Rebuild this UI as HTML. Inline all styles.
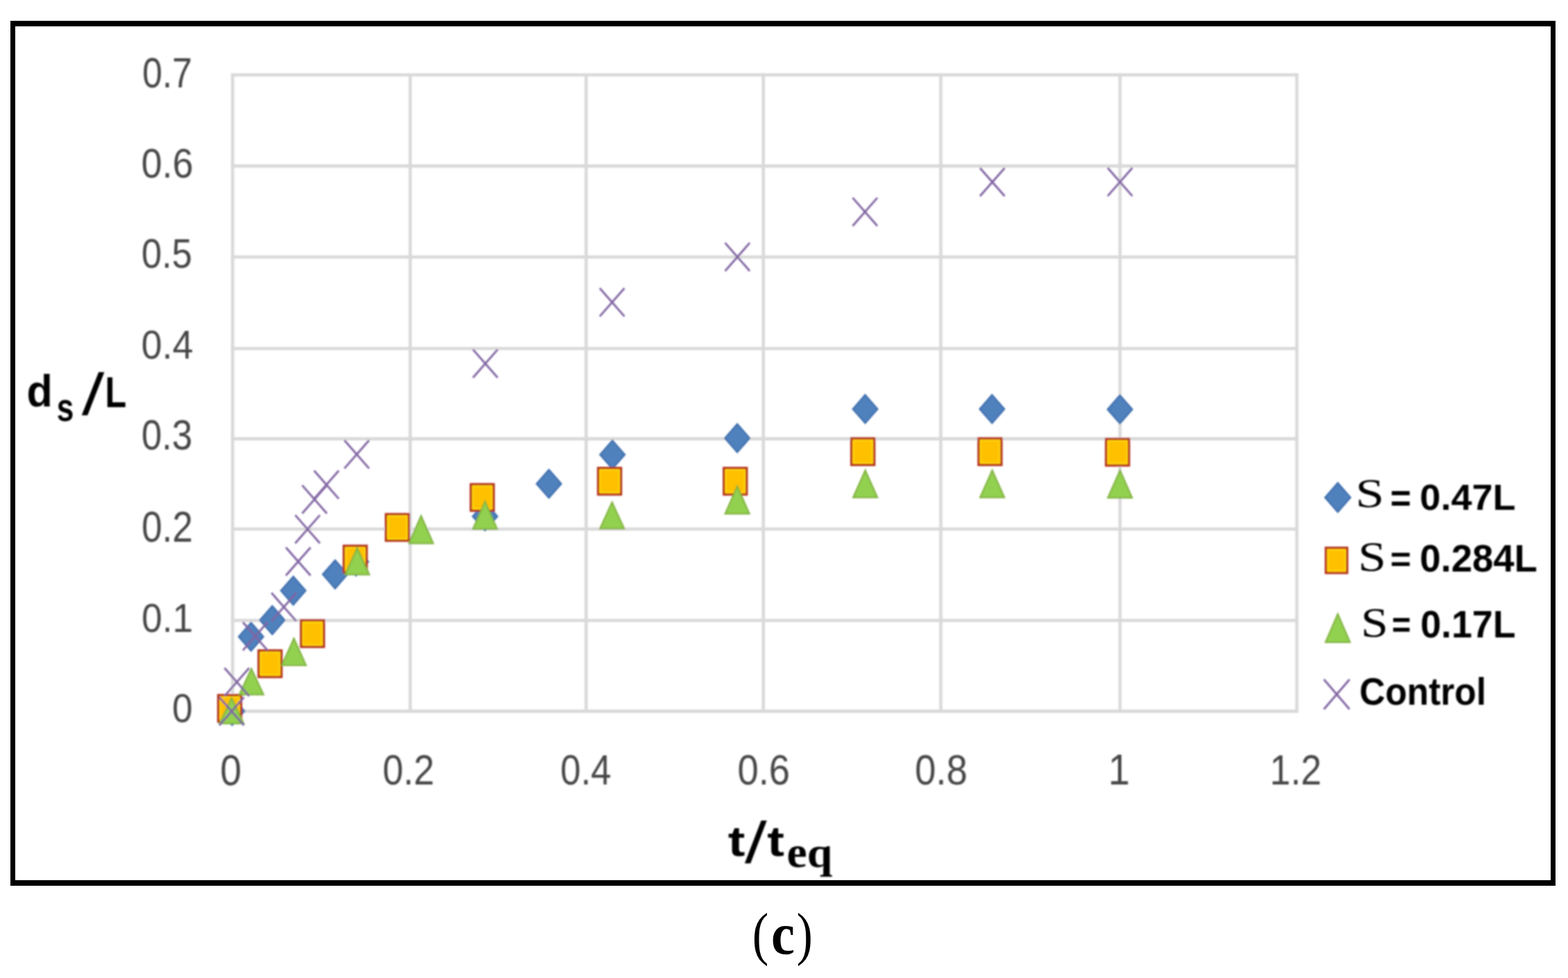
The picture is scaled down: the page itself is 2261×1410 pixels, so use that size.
<!DOCTYPE html>
<html><head><meta charset="utf-8"><title>Scour depth chart (c)</title>
<style>
html,body{margin:0;padding:0;background:#fff;}
body{width:2261px;height:1410px;overflow:hidden;}
svg{display:block;}
.grid line{stroke:#d9d9d9;stroke-width:4.6;}
.dm{fill:#4f81bd;stroke:#3a6aab;stroke-width:2;stroke-linejoin:miter;}
.sq{fill:#ffc000;stroke:#b3331f;stroke-width:3.2;}
.sqi{fill:none;stroke:#ffdc10;stroke-width:1.6;}
.tr{fill:#92d050;stroke:#7fb03e;stroke-width:2;stroke-linejoin:miter;}
.xm{fill:none;stroke:#8064a2;stroke-width:2.9;}
</style></head>
<body>
<svg width="2261" height="1410" viewBox="0 0 2261 1410">
<defs><filter id="soft" x="0" y="0" width="2261" height="1410" filterUnits="userSpaceOnUse"><feGaussianBlur stdDeviation="0.8"/></filter></defs>
<rect x="0" y="0" width="2261" height="1410" fill="#fff"/>
<rect x="15" y="30" width="2228" height="8" fill="#000"/>
<rect x="15" y="1269" width="2228" height="8" fill="#000"/>
<rect x="15" y="30" width="7" height="1247" fill="#000"/>
<rect x="2236" y="30" width="7" height="1247" fill="#000"/>
<g filter="url(#soft)">
<g class="grid"><line x1="335.4" y1="105.8" x2="335.4" y2="1027.6"/><line x1="591.5" y1="105.8" x2="591.5" y2="1027.6"/><line x1="845.2" y1="105.8" x2="845.2" y2="1027.6"/><line x1="1100.7" y1="105.8" x2="1100.7" y2="1027.6"/><line x1="1356.6" y1="105.8" x2="1356.6" y2="1027.6"/><line x1="1615" y1="105.8" x2="1615" y2="1027.6"/><line x1="1870" y1="105.8" x2="1870" y2="1027.6"/><line x1="333.2" y1="108" x2="1872.2" y2="108"/><line x1="333.2" y1="239.4" x2="1872.2" y2="239.4"/><line x1="333.2" y1="370.5" x2="1872.2" y2="370.5"/><line x1="333.2" y1="502.5" x2="1872.2" y2="502.5"/><line x1="333.2" y1="632.6" x2="1872.2" y2="632.6"/><line x1="333.2" y1="762.7" x2="1872.2" y2="762.7"/><line x1="333.2" y1="894.5" x2="1872.2" y2="894.5"/><line x1="333.2" y1="1025.4" x2="1872.2" y2="1025.4"/></g>
<g fill="#464646"><text transform="translate(205.23 125.58) scale(0.836 1)" font-family="Liberation Sans" font-weight="normal" font-size="61.83">0.7</text><text transform="translate(203.85 256.3) scale(0.8978 1)" font-family="Liberation Sans" font-weight="normal" font-size="60">0.6</text><text transform="translate(203.89 386.41) scale(0.8904 1)" font-family="Liberation Sans" font-weight="normal" font-size="59.15">0.5</text><text transform="translate(203.85 517.02) scale(0.9247 1)" font-family="Liberation Sans" font-weight="normal" font-size="58.17">0.4</text><text transform="translate(203.89 648.4) scale(0.8792 1)" font-family="Liberation Sans" font-weight="normal" font-size="60.14">0.3</text><text transform="translate(204.27 781.48) scale(0.8538 1)" font-family="Liberation Sans" font-weight="normal" font-size="62.25">0.2</text><text transform="translate(204.37 910.93) scale(0.9273 1)" font-family="Liberation Sans" font-weight="normal" font-size="57.32">0.1</text><text transform="translate(248.28 1040.63) scale(0.9255 1)" font-family="Liberation Sans" font-weight="normal" font-size="57.32">0</text><text transform="translate(317.59 1131.68) scale(0.886 1)" font-family="Liberation Sans" font-weight="normal" font-size="62.25">0</text><text transform="translate(551.76 1131.29) scale(0.8751 1)" font-family="Liberation Sans" font-weight="normal" font-size="61.27">0.2</text><text transform="translate(808.09 1131.29) scale(0.8618 1)" font-family="Liberation Sans" font-weight="normal" font-size="61.27">0.4</text><text transform="translate(1063.42 1131.29) scale(0.888 1)" font-family="Liberation Sans" font-weight="normal" font-size="61.27">0.6</text><text transform="translate(1319.32 1131.29) scale(0.8893 1)" font-family="Liberation Sans" font-weight="normal" font-size="61.27">0.8</text><text transform="translate(1598 1131.3) scale(0.9014 1)" font-family="Liberation Sans" font-weight="normal" font-size="62.17">1</text><text transform="translate(1831.07 1131.3) scale(0.8758 1)" font-family="Liberation Sans" font-weight="normal" font-size="61.29">1.2</text></g>
<g><path class="dm" d="M334.7 1004.6L352.7 1025.2L334.7 1045.8L316.7 1025.2Z"/><path class="dm" d="M362 897.4L380 918L362 938.6L344 918Z"/><path class="dm" d="M392.6 873.5L410.6 894.1L392.6 914.7L374.6 894.1Z"/><path class="dm" d="M422.9 831L440.9 851.6L422.9 872.2L404.9 851.6Z"/><path class="dm" d="M483.2 807.5L501.2 828.1L483.2 848.7L465.2 828.1Z"/><path class="dm" d="M513.3 789.1L531.3 809.7L513.3 830.3L495.3 809.7Z"/><path class="dm" d="M699.4 723.9L717.4 744.5L699.4 765.1L681.4 744.5Z"/><path class="dm" d="M791.5 676.9L809.5 697.5L791.5 718.1L773.5 697.5Z"/><path class="dm" d="M883.1 634.8L901.1 655.4L883.1 676L865.1 655.4Z"/><path class="dm" d="M1063.1 611.1L1081.1 631.7L1063.1 652.3L1045.1 631.7Z"/><path class="dm" d="M1247.6 569.1L1265.6 589.7L1247.6 610.3L1229.6 589.7Z"/><path class="dm" d="M1430.5 569.1L1448.5 589.7L1430.5 610.3L1412.5 589.7Z"/><path class="dm" d="M1614.9 569.6L1632.9 590.2L1614.9 610.8L1596.9 590.2Z"/><rect class="sq" x="314.65" y="1002.15" width="33.1" height="38.3"/><rect class="sqi" x="317.65" y="1005.15" width="27.1" height="32.3"/><rect class="sq" x="372.85" y="937.75" width="33.1" height="38.3"/><rect class="sqi" x="375.85" y="940.75" width="27.1" height="32.3"/><rect class="sq" x="434.05" y="894.35" width="33.1" height="38.3"/><rect class="sqi" x="437.05" y="897.35" width="27.1" height="32.3"/><rect class="sq" x="495.65" y="786.85" width="33.1" height="38.3"/><rect class="sqi" x="498.65" y="789.85" width="27.1" height="32.3"/><rect class="sq" x="556.45" y="741.25" width="33.1" height="38.3"/><rect class="sqi" x="559.45" y="744.25" width="27.1" height="32.3"/><rect class="sq" x="678.85" y="698.05" width="33.1" height="38.3"/><rect class="sqi" x="681.85" y="701.05" width="27.1" height="32.3"/><rect class="sq" x="862.45" y="674.65" width="33.1" height="38.3"/><rect class="sqi" x="865.45" y="677.65" width="27.1" height="32.3"/><rect class="sq" x="1043.65" y="674.65" width="33.1" height="38.3"/><rect class="sqi" x="1046.65" y="677.65" width="27.1" height="32.3"/><rect class="sq" x="1227.65" y="632.05" width="33.1" height="38.3"/><rect class="sqi" x="1230.65" y="635.05" width="27.1" height="32.3"/><rect class="sq" x="1411.05" y="632.05" width="33.1" height="38.3"/><rect class="sqi" x="1414.05" y="635.05" width="27.1" height="32.3"/><rect class="sq" x="1594.85" y="632.85" width="33.1" height="38.3"/><rect class="sqi" x="1597.85" y="635.85" width="27.1" height="32.3"/><path class="tr" d="M334 1006.3L351.6 1043.3L316.4 1043.3Z"/><path class="tr" d="M362.5 963.8L380.1 1001.5L344.9 1001.5Z"/><path class="tr" d="M423.8 920.2L441.4 959.2L406.2 959.2Z"/><path class="tr" d="M515.1 790L532.7 828.6L497.5 828.6Z"/><path class="tr" d="M607.2 743.5L624.8 783.6L589.6 783.6Z"/><path class="tr" d="M699.4 722.8L717 762.7L681.8 762.7Z"/><path class="tr" d="M882.6 723.8L900.2 762.2L865 762.2Z"/><path class="tr" d="M1063.1 700.9L1080.7 740.7L1045.5 740.7Z"/><path class="tr" d="M1247.7 677.8L1265.3 717.3L1230.1 717.3Z"/><path class="tr" d="M1430.8 677.8L1448.4 717.3L1413.2 717.3Z"/><path class="tr" d="M1615 678L1632.6 717.8L1597.4 717.8Z"/><path class="xm" d="M316.2 1005.2L351.8 1045.8M316.2 1045.8L351.8 1005.2"/><path class="xm" d="M323.7 963L359.3 1003.6M323.7 1003.6L359.3 963"/><path class="xm" d="M350.2 897L385.8 937.6M350.2 937.6L385.8 897"/><path class="xm" d="M391.5 854.8L427.1 895.4M391.5 895.4L427.1 854.8"/><path class="xm" d="M412.2 789.2L447.8 829.8M412.2 829.8L447.8 789.2"/><path class="xm" d="M425.7 742.6L461.3 783.2M425.7 783.2L461.3 742.6"/><path class="xm" d="M435.7 699.6L471.3 740.2M435.7 740.2L471.3 699.6"/><path class="xm" d="M452.9 678.5L488.5 719.1M452.9 719.1L488.5 678.5"/><path class="xm" d="M496.6 634.8L532.2 675.4M496.6 675.4L532.2 634.8"/><path class="xm" d="M682 503.9L717.6 544.5M682 544.5L717.6 503.9"/><path class="xm" d="M864.8 415.5L900.4 456.1M864.8 456.1L900.4 415.5"/><path class="xm" d="M1045.5 350.1L1081.1 390.7M1045.5 390.7L1081.1 350.1"/><path class="xm" d="M1229.5 285.1L1265.1 325.7M1229.5 325.7L1265.1 285.1"/><path class="xm" d="M1413.1 242.2L1448.7 282.8M1413.1 282.8L1448.7 242.2"/><path class="xm" d="M1597.2 242L1632.8 282.6M1597.2 282.6L1632.8 242"/></g>
<g><path class="dm" d="M1929 696L1947.5 717.2L1929 738.4L1910.5 717.2Z"/><rect class="sq" x="1911.8" y="789.75" width="30.8" height="36.3"/><rect class="sqi" x="1914.8" y="792.75" width="24.8" height="30.3"/><path class="tr" d="M1929 885L1946.8 925.9L1911.2 925.9Z"/><path class="xm" d="M1909 979.5L1946 1022.5M1909 1022.5L1946 979.5"/></g>
<g fill="#000"><text transform="translate(38.55 586.15) scale(0.9389 1)" font-family="Liberation Sans" font-weight="bold" font-size="65.17">d</text><text transform="translate(81.65 606.92) scale(0.7627 1)" font-family="Liberation Sans" font-weight="bold" font-size="58.18">s</text><text transform="translate(119.3 596.68) skewX(-6.75)" font-family="Liberation Sans" font-weight="normal" font-size="82.31" stroke="#000" stroke-width="1.8">/</text><text transform="translate(151.62 586.8) scale(0.7935 1)" font-family="Liberation Sans" font-weight="bold" font-size="63.62">L</text><text transform="translate(1049.66 1233.98) scale(1.1979 1)" font-family="Liberation Sans" font-weight="bold" font-size="61.67">t</text><text transform="translate(1075.19 1243.38) skewX(-6.33)" font-family="Liberation Sans" font-weight="normal" font-size="81.63" stroke="#000" stroke-width="1.8">/</text><text transform="translate(1106.16 1233.98) scale(1.2031 1)" font-family="Liberation Sans" font-weight="bold" font-size="61.67">t</text><text transform="translate(1134.59 1249.72) scale(1.0496 1)" font-family="Liberation Serif" font-weight="bold" font-size="62.75">eq</text><text transform="translate(1954.45 731.1) scale(1.2411 1)" font-family="Liberation Serif" font-weight="normal" font-size="60.15">S</text><text transform="translate(2004.64 736.64) scale(0.9406 1)" font-family="Liberation Sans" font-weight="bold" font-size="54.74">=</text><text transform="translate(2047.34 734.97) scale(1.0287 1)" font-family="Liberation Sans" font-weight="bold" font-size="52.54">0.47L</text><text transform="translate(1958.37 822.89) scale(1.1866 1)" font-family="Liberation Serif" font-weight="normal" font-size="61.34">S</text><text transform="translate(2004.64 824.06) scale(1.0137 1)" font-family="Liberation Sans" font-weight="bold" font-size="50.79">=</text><text transform="translate(2047.32 823.65) scale(0.997 1)" font-family="Liberation Sans" font-weight="bold" font-size="54.65">0.284L</text><text transform="translate(1962.17 917.89) scale(1.1601 1)" font-family="Liberation Serif" font-weight="normal" font-size="61.34">S</text><text transform="translate(2007.01 919.33) scale(0.8954 1)" font-family="Liberation Sans" font-weight="bold" font-size="52.63">=</text><text transform="translate(2048.15 918.75) scale(0.9805 1)" font-family="Liberation Sans" font-weight="bold" font-size="54.79">0.17L</text><text transform="translate(1960.24 1016.44) scale(0.9199 1)" font-family="Liberation Sans" font-weight="bold" font-size="55.92">Control</text></g>
</g>
<g fill="#000"><text transform="translate(1084.72 1375.17) scale(0.8359 1)" font-family="Liberation Serif" font-weight="normal" font-size="84.44">(</text><text transform="translate(1112.02 1375.06) scale(0.9126 1)" font-family="Liberation Serif" font-weight="bold" font-size="83.96">c</text><text transform="translate(1148.82 1375.17) scale(0.8198 1)" font-family="Liberation Serif" font-weight="normal" font-size="84.44">)</text></g>
</svg>
</body></html>
